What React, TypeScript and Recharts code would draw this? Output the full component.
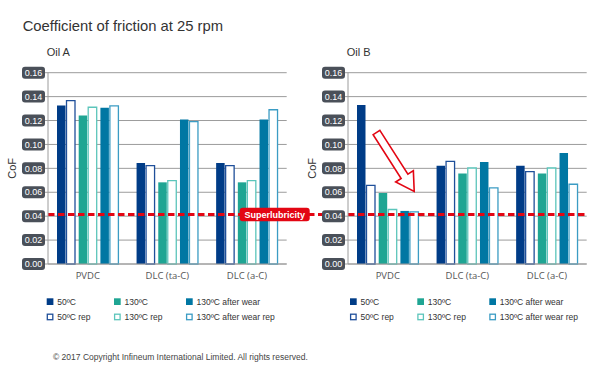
import React from "react";
import { BarChart, Bar, XAxis, YAxis, CartesianGrid, ReferenceLine } from "recharts";

const categories = ["PVDC", "DLC (ta-C)", "DLC (a-C)"];

const oilA50 = [0.1325, 0.0844, 0.0844];
const oilA50Rep = [0.1367, 0.0822, 0.0822];
const oilA130 = [0.1242, 0.0683, 0.0683];
const oilA130Rep = [0.1311, 0.0697, 0.0697];
const oilAWear = [0.1306, 0.1208, 0.1208];
const oilAWearRep = [0.1322, 0.119, 0.129];

const oilB50 = [0.133, 0.0822, 0.0822];
const oilB50Rep = [0.0658, 0.0858, 0.0772];
const oilB130 = [0.0594, 0.0756, 0.0756];
const oilB130Rep = [0.0456, 0.0803, 0.0803];
const oilBWear = [0.0444, 0.0853, 0.0928];
const oilBWearRep = [0.0436, 0.0636, 0.0667];

const yTicks = [0, 0.02, 0.04, 0.06, 0.08, 0.1, 0.12, 0.14, 0.16];
const superlubricity = 0.0414;

const C50 = "#003c87";
const C50R = "#1f4f9a";
const C130 = "#1fa593";
const C130R = "#5cc5bb";
const CW = "#0077a3";
const CWR = "#3b9cc4";
const RED = "#e30613";
const FONT = "'Liberation Sans', Arial, sans-serif";

const legendItems = [
  { label: "50ºC", color: C50, filled: true },
  { label: "130ºC", color: C130, filled: true },
  { label: "130ºC after wear", color: CW, filled: true },
  { label: "50ºC rep", color: C50R, filled: false },
  { label: "130ºC rep", color: C130R, filled: false },
  { label: "130ºC after wear rep", color: CWR, filled: false },
];

const buildRows = (a: number[], ar: number[], b: number[], br: number[], w: number[], wr: number[]) =>
  categories.map((name, i) => ({
    name,
    t50: a[i],
    t50r: ar[i],
    t130: b[i],
    t130r: br[i],
    tw: w[i],
    twr: wr[i],
  }));

const rowsA = buildRows(oilA50, oilA50Rep, oilA130, oilA130Rep, oilAWear, oilAWearRep);
const rowsB = buildRows(oilB50, oilB50Rep, oilB130, oilB130Rep, oilBWear, oilBWearRep);

const YTick = ({ x, y, payload }: any) => (
  <g>
    <rect x={x - 23} y={y - 6} width={23} height={12} rx={3} fill="#4a5059" />
    <text x={x - 11.5} y={y + 3.2} textAnchor="middle" fill="#fff" fontSize={9} fontFamily={FONT}>
      {Number(payload.value).toFixed(2)}
    </text>
  </g>
);

const CoFLabel = ({ viewBox }: any) => {
  const cy = viewBox.y + viewBox.height / 2;
  return (
    <text
      x={16}
      y={cy}
      transform={`rotate(-90 16 ${cy})`}
      textAnchor="middle"
      fontSize={11}
      fill="#333"
      fontFamily={FONT}
    >
      CoF
    </text>
  );
};

// dashed superlubricity line; the left chart carries it across the gap with the label
const SuperLine = ({ x1, y1, x2, extend }: any) => (
  <g>
    <line x1={x1} y1={y1} x2={x2 + extend} y2={y1} stroke={RED} strokeWidth={3} strokeDasharray="6.5 3.5" />
    {extend > 0 && (
      <g>
        <rect x={x2 - 47} y={y1 - 6.7} width={70} height={13.4} rx={3} fill={RED} />
        <text x={x2 - 12} y={y1 + 3.2} textAnchor="middle" fill="#fff" fontSize={9} fontWeight="bold" fontFamily={FONT}>
          Superlubricity
        </text>
      </g>
    )}
  </g>
);

const OilChart = ({ rows, left, width, rightMargin, extend }: any) => (
  <div style={{ position: "absolute", left, top: 0 }}>
    <BarChart
      width={width}
      height={300}
      data={rows}
      margin={{ top: 72.7, right: rightMargin, bottom: 6, left: 0 }}
      barGap={1}
    >
      <CartesianGrid vertical={false} stroke="#9c9c9c" />
      <XAxis
        xAxisId="edge"
        type="number"
        domain={[0, 3]}
        ticks={[0, 1, 2, 3]}
        allowDataOverflow
        tick={false}
        axisLine={false}
        tickLine={{ stroke: "#9c9c9c" }}
        tickSize={3}
        height={0}
      />
      <XAxis
        dataKey="name"
        height={30}
        tickLine={false}
        axisLine={{ stroke: "#9c9c9c" }}
        tick={{ fontSize: 9.5, fill: "#555", fontFamily: "'Open Sans', sans-serif" }}
      />
      <YAxis
        width={48}
        domain={[0, 0.16]}
        ticks={yTicks}
        interval={0}
        tick={<YTick />}
        tickSize={3}
        tickMargin={0}
        tickLine={{ stroke: "#9c9c9c" }}
        axisLine={{ stroke: "#9c9c9c" }}
        label={{ content: <CoFLabel /> }}
      />
      <Bar dataKey="t50" fill={C50} barSize={8.5} isAnimationActive={false} />
      <Bar dataKey="t50r" fill="#fff" stroke={C50R} strokeWidth={1.3} barSize={8.5} isAnimationActive={false} />
      <Bar dataKey="gap1" barSize={1.7} isAnimationActive={false} />
      <Bar dataKey="t130" fill={C130} barSize={8.5} isAnimationActive={false} />
      <Bar dataKey="t130r" fill="#fff" stroke={C130R} strokeWidth={1.3} barSize={8.5} isAnimationActive={false} />
      <Bar dataKey="gap2" barSize={1.7} isAnimationActive={false} />
      <Bar dataKey="tw" fill={CW} barSize={8.5} isAnimationActive={false} />
      <Bar dataKey="twr" fill="#fff" stroke={CWR} strokeWidth={1.3} barSize={8.5} isAnimationActive={false} />
      <ReferenceLine y={superlubricity} shape={(p: any) => <SuperLine {...p} extend={extend} />} />
    </BarChart>
  </div>
);

const Legend = ({ x0 }: { x0: number }) => {
  const cols = [0, 67.3, 139.3];
  return (
    <g>
      {legendItems.map((it, i) => {
        const x = x0 + cols[i % 3];
        const y = i < 3 ? 298.3 : 313.6;
        return (
          <g key={it.label}>
            <rect
              x={x + (it.filled ? 0 : 0.6)}
              y={y + (it.filled ? 0 : 0.6)}
              width={it.filled ? 6.7 : 5.5}
              height={it.filled ? 6.7 : 5.5}
              fill={it.filled ? it.color : "#fff"}
              stroke={it.filled ? "none" : it.color}
              strokeWidth={1.3}
            />
            <text x={x + 10.5} y={y + 6.3} fontSize={8.5} fill="#333" fontFamily={FONT}>
              {it.label}
            </text>
          </g>
        );
      })}
    </g>
  );
};

export default function App() {
  return (
    <div style={{ position: "absolute", left: 0, top: 0, width: 600, height: 376, background: "#fff" }}>
      <OilChart rows={rowsA} left={0} width={350} rightMargin={63.3} extend={61.6} />
      <OilChart rows={rowsB} left={300} width={300} rightMargin={13.3} extend={0} />
      <svg width={600} height={376} style={{ position: "absolute", left: 0, top: 0, pointerEvents: "none" }}>
        <text x={22.7} y={30.7} fontSize={14.8} fill="#333" fontFamily={FONT}>
          Coefficient of friction at 25 rpm
        </text>
        <text x={46.7} y={55.7} fontSize={11} fill="#333" fontFamily={FONT}>
          Oil A
        </text>
        <text x={346.7} y={55.7} fontSize={11} fill="#333" fontFamily={FONT}>
          Oil B
        </text>
        <Legend x0={46.7} />
        <Legend x0={350} />
        <text x={53} y={360} fontSize={8.5} fill="#444" fontFamily={FONT}>
          © 2017 Copyright Infineum International Limited. All rights reserved.
        </text>
        <g transform="translate(376.5 132.5) rotate(57.4)">
          <polygon
            points="0,-4 52,-4 52,-10.5 70,0 52,10.5 52,4 0,4"
            fill="#fff"
            stroke={RED}
            strokeWidth={1.6}
            strokeLinejoin="miter"
          />
        </g>
      </svg>
    </div>
  );
}
